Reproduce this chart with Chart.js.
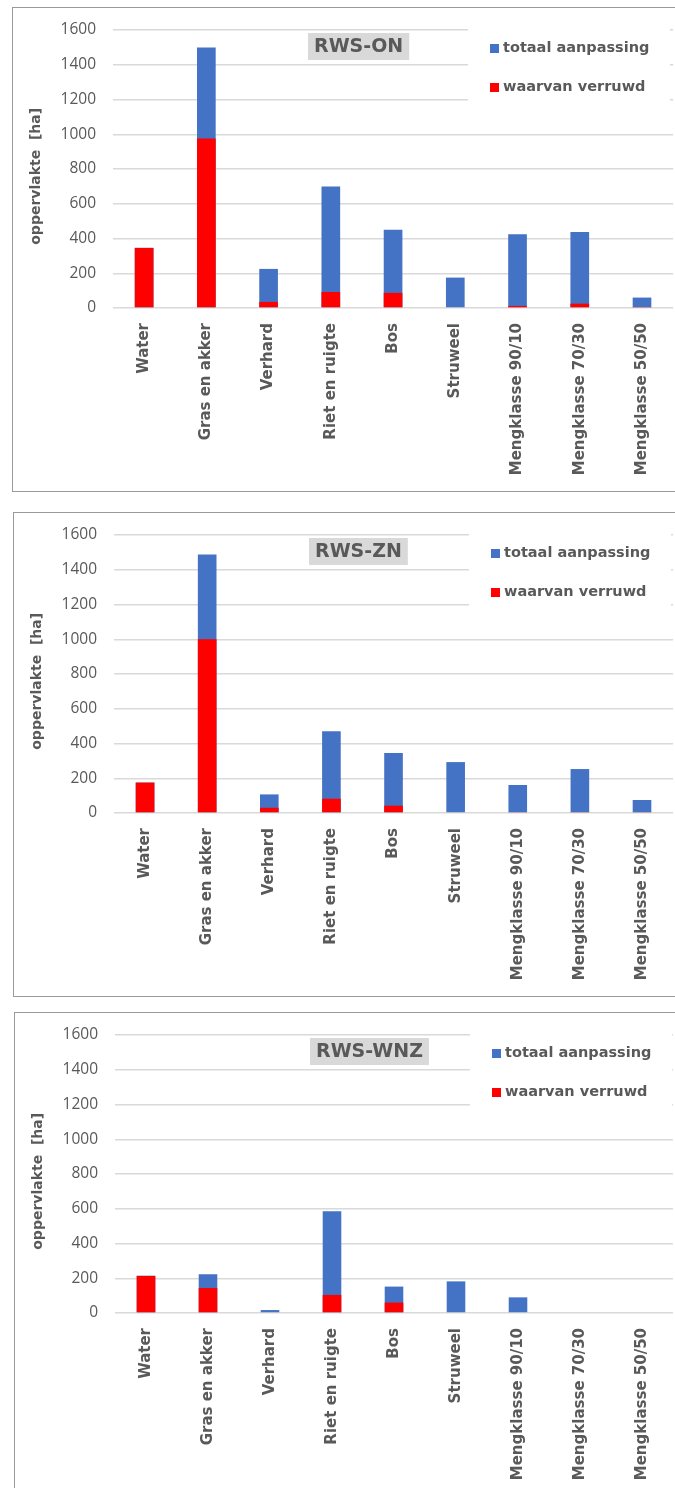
<html>
<head>
<meta charset="utf-8">
<script src="https://cdn.jsdelivr.net/npm/chart.js@4.4.1/dist/chart.umd.min.js"></script>
<style>
    body { margin: 0; background: #fff; }
    #wrap { position: relative; width: 675px; height: 1488px; overflow: hidden; }
    .panel { position: absolute; width: 720px; height: 483px; border: 1px solid #9a9a9a; background: #fff; }
    canvas { display: block; }
</style>
</head>
<body>
<div id="wrap">
    <div class="panel" style="left:12px; top:7px;"><canvas id="chartON" width="662" height="483"></canvas></div>
    <div class="panel" style="left:13px; top:512px;"><canvas id="chartZN" width="661" height="483"></canvas></div>
    <div class="panel" style="left:14px; top:1012px;"><canvas id="chartWNZ" width="660" height="483"></canvas></div>
</div>
</body>

<script>
    // categorieen (x-as)
    var categories = ['Water', 'Gras en akker', 'Verhard', 'Riet en ruigte', 'Bos', 'Struweel',
        'Mengklasse 90/10', 'Mengklasse 70/30', 'Mengklasse 50/50'];

    // RWS-ON
    var onTotaal = [347, 1500, 225, 700, 450, 175, 425, 437, 60];
    var onVerruwd = [345, 975, 35, 92, 87, 0, 12, 25, 3];
    // RWS-ZN
    var znTotaal = [175, 1488, 107, 470, 345, 293, 161, 253, 75];
    var znVerruwd = [175, 1000, 30, 82, 42, 0, 5, 5, 5];
    // RWS-WNZ
    var wnzTotaal = [215, 223, 17, 585, 152, 182, 90, 0, 0];
    var wnzVerruwd = [213, 144, 0, 104, 60, 0, 0, 0, 0];

    var yMin = 0, yMax = 1600, yStep = 200;
    var yTitle = 'oppervlakte  [ha]   ';
    var labelTotaal = 'totaal aanpassing';
    var labelVerruwd = 'waarvan verruwd';

    var BLUE = '#4472c4', RED = '#ff0000', GREY_TXT = '#595959';

    // legenda + titelvak binnen het plotgebied
    var boxPlugin = {
        id: 'boxes',
        beforeDatasetsDraw: function (chart, args, opts) {
            var ctx = chart.ctx, ca = chart.chartArea;
            ctx.save();
            // witte achtergrond van de legenda (verbergt rasterlijnen)
            ctx.fillStyle = '#ffffff';
            ctx.fillRect(ca.left + 355, ca.top - 5, 202, 95);
            ctx.font = 'bold 14.5px "DejaVu Sans"';
            ctx.textBaseline = 'middle';
            ctx.textAlign = 'left';
            chart.data.datasets.forEach(function (ds, i) {
                var y = ca.top + 18 + i * 39;
                ctx.fillStyle = ds.backgroundColor;
                ctx.fillRect(ca.left + 377, y - 4, 9, 9);
                ctx.fillStyle = GREY_TXT;
                ctx.fillText(ds.label, ca.left + 390, y);
            });
            // titelvak
            ctx.font = 'bold 19px "DejaVu Sans"';
            var w = ctx.measureText(opts.title).width + 12;
            ctx.fillStyle = '#d9d9d9';
            ctx.fillRect(ca.left + 195, ca.top + 3, w, 27);
            ctx.fillStyle = GREY_TXT;
            ctx.textAlign = 'center';
            ctx.fillText(opts.title, ca.left + 195 + w / 2, ca.top + 17);
            ctx.restore();
        }
    };

    function makeChart(id, title, totaal, verruwd) {
        return new Chart(id, {
            type: 'bar',
            data: {
                labels: categories,
                datasets: [
                    {
                        label: labelTotaal,
                        data: totaal,
                        backgroundColor: BLUE,
                        grouped: false,
                        order: 1
                    }, {
                        label: labelVerruwd,
                        data: verruwd,
                        backgroundColor: RED,
                        grouped: false,
                        order: 0
                    }
                ]
            },
            plugins: [boxPlugin],
            options: {
                responsive: false,
                animation: false,
                devicePixelRatio: 1,
                barPercentage: 0.3,
                categoryPercentage: 1,
                layout: { padding: { top: 22, left: 0, right: 0, bottom: 0 } },
                plugins: {
                    legend: { display: false },
                    tooltip: { enabled: false },
                    boxes: { title: title }
                },
                scales: {
                    x: {
                        grid: { display: false, drawTicks: false },
                        border: { display: false },
                        ticks: {
                            autoSkip: false,
                            minRotation: 90,
                            maxRotation: 90,
                            padding: 15,
                            color: GREY_TXT,
                            font: { family: 'DejaVu Sans', weight: 'bold', size: 15 }
                        },
                        afterFit: function (s) { s.height = 183; }
                    },
                    y: {
                        min: yMin,
                        max: yMax,
                        grid: {
                            color: '#d9d9d9', lineWidth: 1.5,
                            drawTicks: true, tickLength: 17, tickColor: 'rgba(0,0,0,0)'
                        },
                        border: { display: false },
                        ticks: {
                            stepSize: yStep,
                            padding: 0,
                            color: GREY_TXT,
                            font: { family: 'Open Sans', size: 15.5 },
                            callback: function (v) { return String(v); }
                        },
                        title: {
                            display: true,
                            text: yTitle,
                            color: GREY_TXT,
                            padding: { top: 15, bottom: 0 },
                            font: { family: 'DejaVu Sans', weight: 'bold', size: 14 }
                        },
                        afterFit: function (s) { s.width = 100; }
                    }
                }
            }
        });
    }

    makeChart('chartON', 'RWS-ON', onTotaal, onVerruwd);
    makeChart('chartZN', 'RWS-ZN', znTotaal, znVerruwd);
    makeChart('chartWNZ', 'RWS-WNZ', wnzTotaal, wnzVerruwd);
</script>
</html>
